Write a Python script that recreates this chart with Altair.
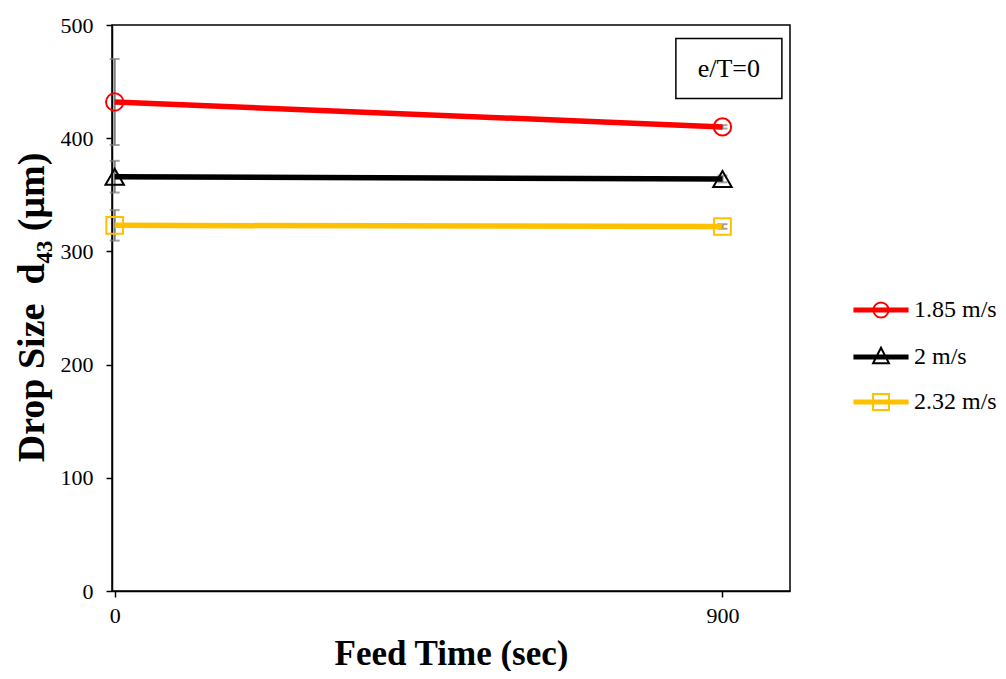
import altair as alt
import pandas as pd

# ---- data ----
feed_time = [0, 900]
series_names = ["1.85 m/s", "2 m/s", "2.32 m/s"]
d43_185 = [432, 410]
d43_200 = [366, 364]
d43_232 = [323, 322]
err_185 = [38, 1.5]
err_200 = [14, 3]
err_232 = [13.5, 2]
x_tick_values = [0, 900]
y_tick_values = [0, 100, 200, 300, 400, 500]
note_label = "e/T=0"
note_x = [831, 988]
note_y = [435, 488]

# ---- styles ----
series_colors = ["#FF0000", "#000000", "#FFC000"]
marker_shapes = ["circle", "triangle-up", "square"]
marker_sizes = [300, 340, 280]
FONT = "Liberation Serif"

LINE = "M-4,-0.2L4,-0.2M-4,0L4,0M-4,0.2L4,0.2"
CIRC = "M1.1,0A1.1,1.1,0,1,1,-1.1,0A1.1,1.1,0,1,1,1.1,0Z"
TRI = "M0,-1.35L1.15,0.9L-1.15,0.9Z"
SQ = "M-1.15,-1.15L1.15,-1.15L1.15,1.15L-1.15,1.15Z"
legend_paths = [LINE + CIRC, LINE + TRI, LINE + SQ]

rows = []
for name, vals, errs in zip(series_names, [d43_185, d43_200, d43_232],
                            [err_185, err_200, err_232]):
    for t, v, e in zip(feed_time, vals, errs):
        rows.append({"series": name, "t": t, "d43": v, "lo": v - e, "hi": v + e})
df = pd.DataFrame(rows)

x_scale = alt.Scale(domain=[-4, 1000], nice=False, zero=False)
y_scale = alt.Scale(domain=[0, 500], nice=False)
color_scale = alt.Scale(domain=series_names, range=series_colors)
shape_scale = alt.Scale(domain=series_names, range=legend_paths)

x_axis = alt.Axis(
    values=x_tick_values, title="Feed Time (sec)", grid=False,
    labelFont=FONT, labelFontSize=22, labelColor="black", labelPadding=8,
    tickColor="black", tickSize=6, tickWidth=1.5,
    domainColor="black", domainWidth=1.5,
    titleFont=FONT, titleFontSize=35, titleFontWeight="bold", titleColor="black",
    titleX=339, titleY=73, titleBaseline="alphabetic", titleAlign="center",
)
y_axis = alt.Axis(
    values=y_tick_values, title="Drop Size\u00a0\u00a0d\u2084\u2083 (\u03bcm)", grid=False,
    labelFont=FONT, labelFontSize=22, labelColor="black", labelPadding=13,
    tickColor="black", tickSize=6, tickWidth=1.5,
    domainColor="black", domainWidth=1.5,
    titleFont=FONT, titleFontSize=38, titleFontWeight="bold", titleColor="black",
    titleX=-80, titleY=282, titleAngle=270, titleBaseline="middle", titleAlign="center",
)

X = alt.X("t:Q", scale=x_scale, axis=x_axis)
base = alt.Chart(df)

err_rule = base.mark_rule(color="#7F7F7F", strokeWidth=2).encode(
    x=X, y=alt.Y("lo:Q", scale=y_scale, axis=y_axis), y2="hi:Q")
cap_lo = base.mark_tick(color="#7F7F7F", orient="horizontal", size=10, thickness=2).encode(
    x="t:Q", y=alt.Y("lo:Q", scale=y_scale))
cap_hi = base.mark_tick(color="#7F7F7F", orient="horizontal", size=10, thickness=2).encode(
    x="t:Q", y=alt.Y("hi:Q", scale=y_scale))

series_layers = []
for name, col, shp, sz in zip(series_names, series_colors, marker_shapes, marker_sizes):
    sub = base.transform_filter(alt.datum.series == name)
    series_layers.append(
        sub.mark_line(strokeWidth=5.5, color=col).encode(
            x="t:Q", y=alt.Y("d43:Q", scale=y_scale)))
for name, col, shp, sz in zip(series_names, series_colors, marker_shapes, marker_sizes):
    sub = base.transform_filter(alt.datum.series == name)
    series_layers.append(
        sub.mark_point(shape=shp, size=sz, filled=False, strokeWidth=2, opacity=1, color=col)
        .encode(x="t:Q", y=alt.Y("d43:Q", scale=y_scale)))

leg = alt.Legend(
    title=None, orient="none", legendX=757, legendY=273, padding=0,
    labelFont=FONT, labelFontSize=24, labelColor="black", labelOffset=21,
    symbolSize=190, symbolStrokeWidth=2, rowPadding=21, labelLimit=300,
    symbolOpacity=1,
)
legend_layer = base.mark_point(filled=False, opacity=0, size=190).encode(
    x="t:Q", y=alt.Y("d43:Q", scale=y_scale),
    color=alt.Color("series:N", scale=color_scale, legend=leg),
    shape=alt.Shape("series:N", scale=shape_scale, legend=leg))

note_df = pd.DataFrame({"x": [note_x[0]], "x2": [note_x[1]], "y": [note_y[0]], "y2": [note_y[1]],
                        "xc": [(note_x[0] + note_x[1]) / 2], "yc": [(note_y[0] + note_y[1]) / 2],
                        "label": [note_label]})
note_box = alt.Chart(note_df).mark_rect(fill="white", stroke="black", strokeWidth=1.5).encode(
    x=alt.X("x:Q", scale=x_scale), x2="x2:Q", y=alt.Y("y:Q", scale=y_scale), y2="y2:Q")
note_text = alt.Chart(note_df).mark_text(font=FONT, fontSize=26, align="center",
                                         baseline="middle", color="black").encode(
    x=alt.X("xc:Q", scale=x_scale), y=alt.Y("yc:Q", scale=y_scale), text="label:N")

chart = alt.layer(err_rule, cap_lo, cap_hi, *series_layers, legend_layer,
                  note_box, note_text).properties(
    width=678, height=566, autosize="none",
    padding={"left": 104, "top": 17, "right": 208, "bottom": 80},
    background="white",
).configure_view(stroke="black", strokeWidth=1.5)

chart.save("out.html", embed_options={"renderer": "svg", "actions": False})
